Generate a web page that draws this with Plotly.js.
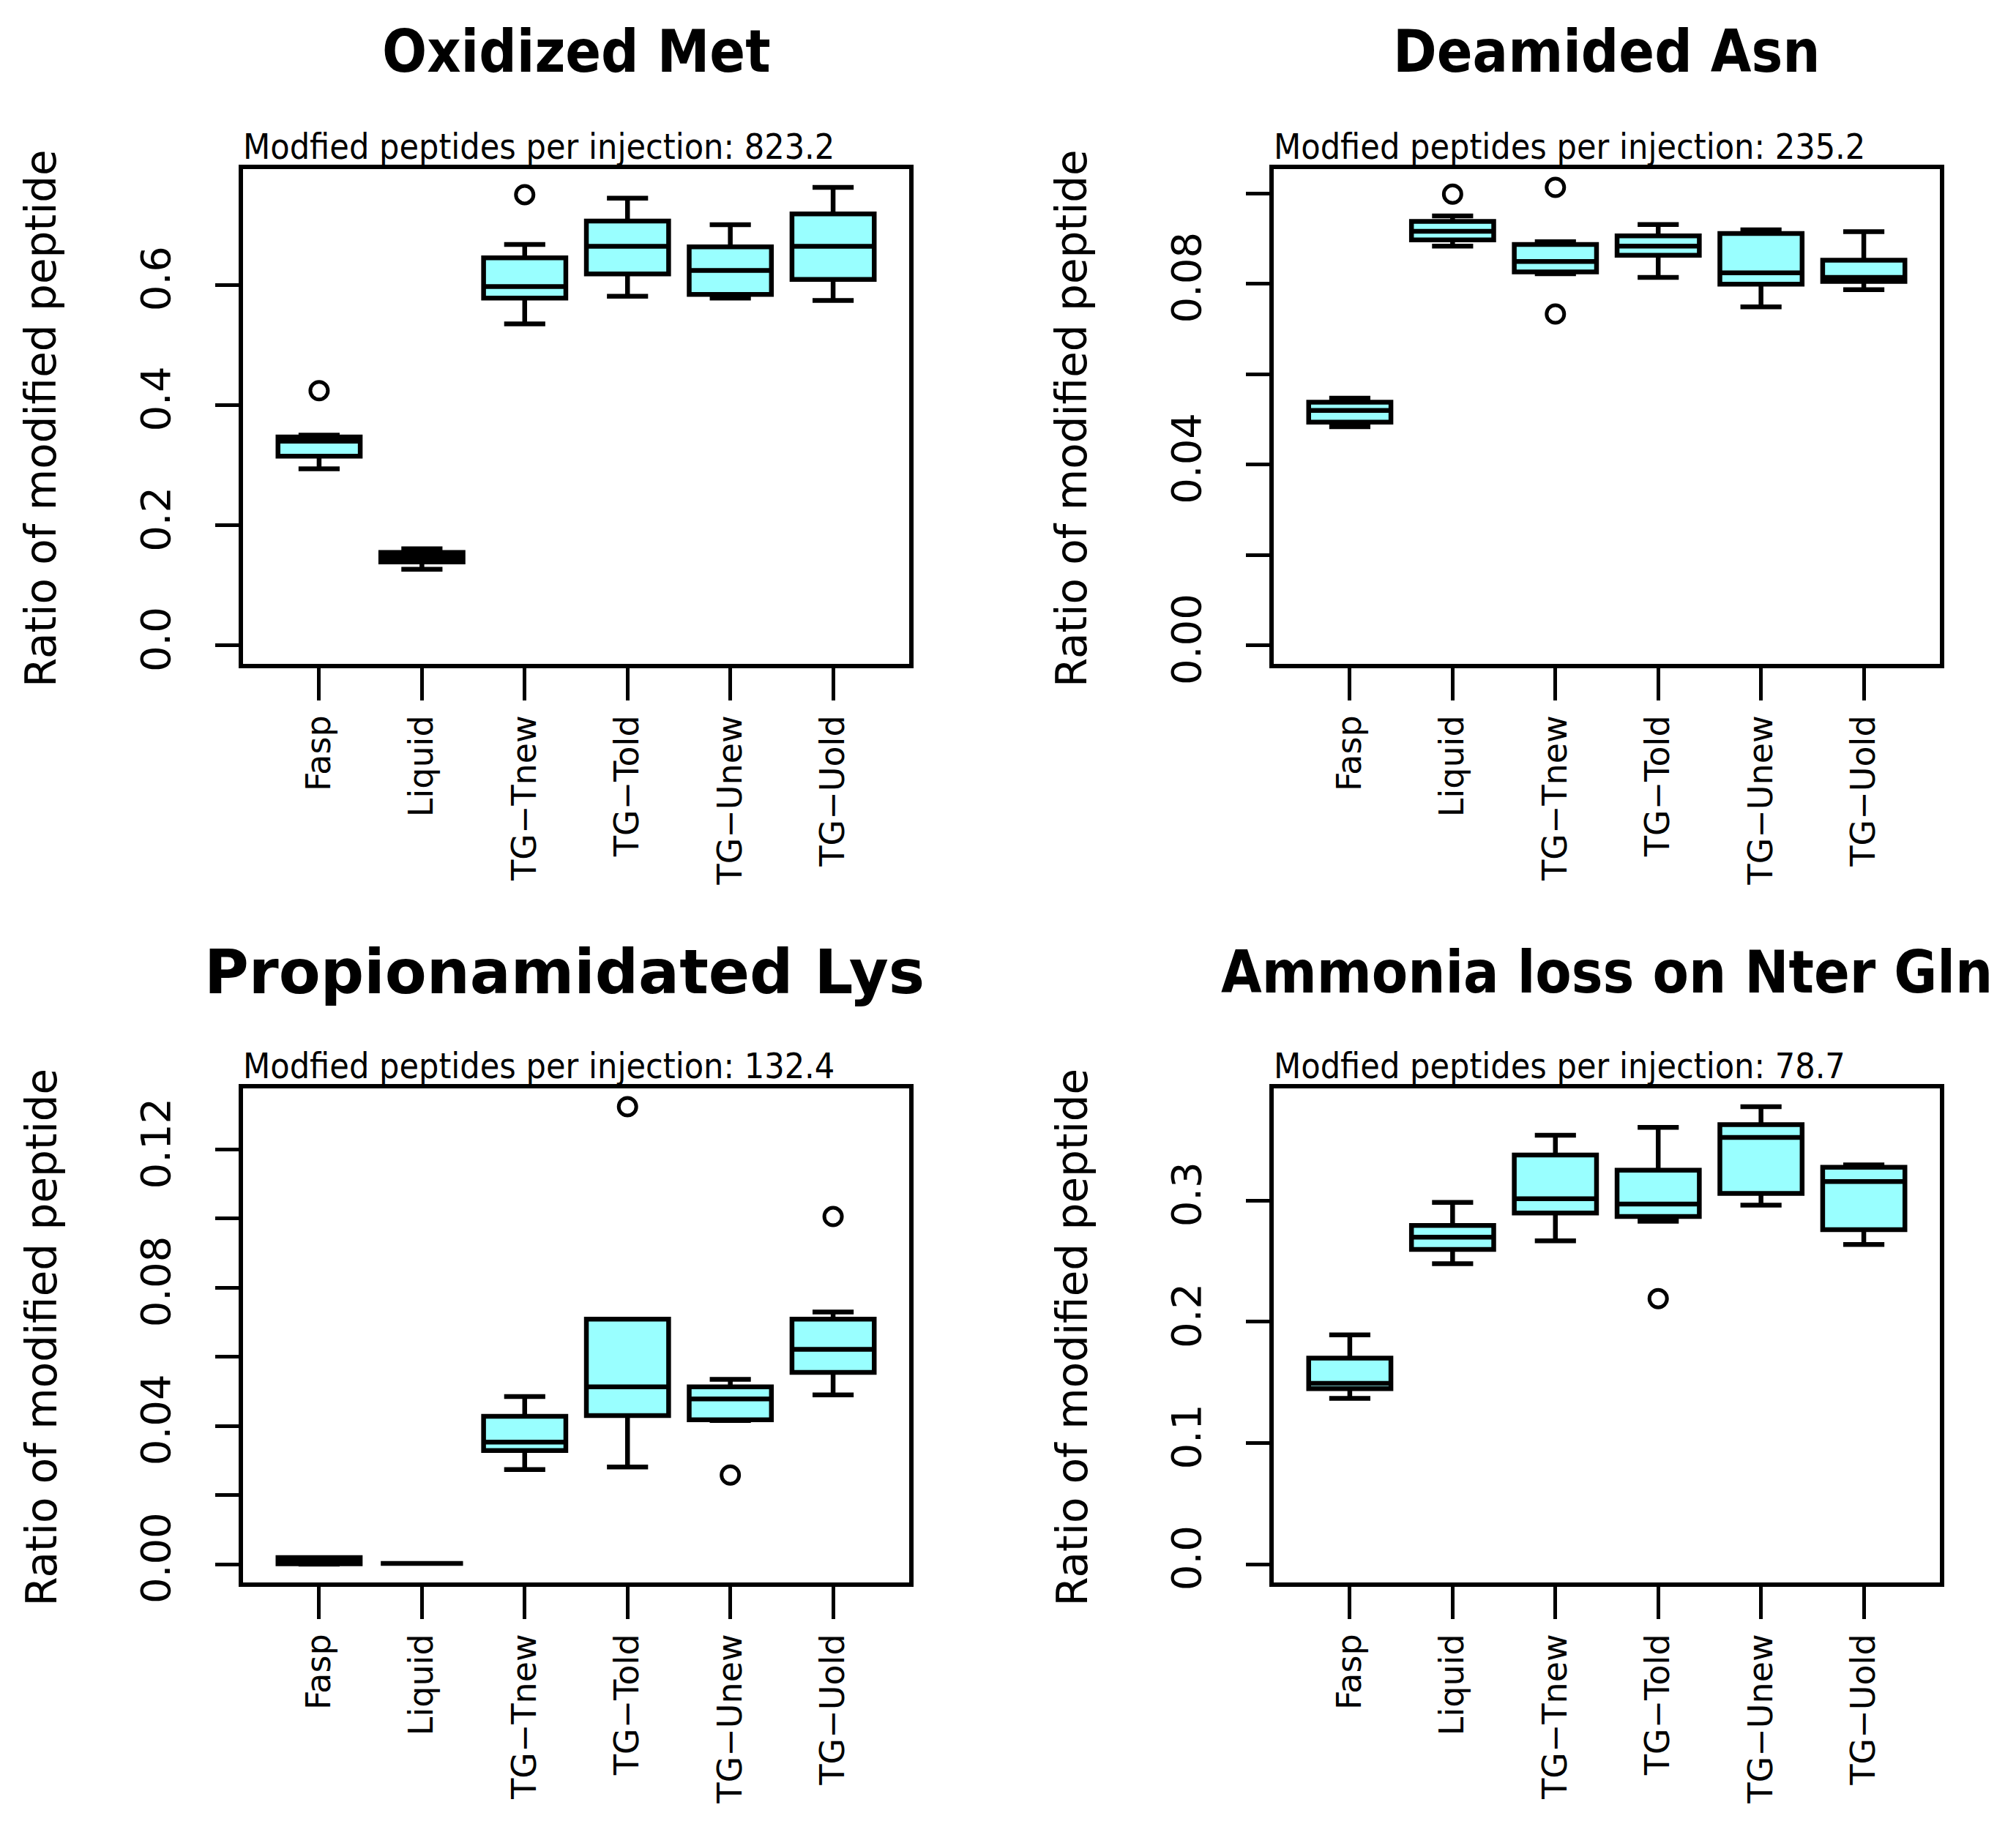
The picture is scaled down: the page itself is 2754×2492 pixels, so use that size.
<!DOCTYPE html>
<html>
<head>
<meta charset="utf-8">
<script src="https://cdn.plot.ly/plotly-3.0.1.min.js"></script>
<style>
html,body{margin:0;padding:0;background:#fff;overflow:hidden;}
#chart{width:2754px;height:2492px;}
</style>
</head>
<body>
<div id="chart"></div>
<script>
// ---- data ----
const categories = ["Fasp", "Liquid", "TG\u2212Tnew", "TG\u2212Told", "TG\u2212Unew", "TG\u2212Uold"];
const panelTitles = ["Oxidized Met", "Deamided Asn", "Propionamidated Lys", "Ammonia loss on Nter Gln"];
const subtitles = [
  "Modfied peptides per injection: 823.2",
  "Modfied peptides per injection: 235.2",
  "Modfied peptides per injection: 132.4",
  "Modfied peptides per injection: 78.7"
];
const yTitle = "Ratio of modified peptide";

// Oxidized Met
const oxLower  = [0.294, 0.127, 0.535, 0.581, 0.578, 0.574];
const oxQ1     = [0.315, 0.139, 0.578, 0.618, 0.584, 0.609];
const oxMedian = [0.340, 0.147, 0.597, 0.664, 0.624, 0.664];
const oxQ3     = [0.347, 0.155, 0.645, 0.706, 0.663, 0.718];
const oxUpper  = [0.350, 0.161, 0.667, 0.744, 0.700, 0.762];
const oxOutX   = [1, 3];
const oxOutY   = [0.424, 0.750];

// Deamided Asn
const deLower  = [0.0484, 0.0883, 0.0822, 0.0814, 0.0749, 0.0787];
const deQ1     = [0.0494, 0.0897, 0.0826, 0.0863, 0.0799, 0.0805];
const deMedian = [0.0520, 0.0916, 0.0849, 0.0883, 0.0824, 0.0814];
const deQ3     = [0.0538, 0.0938, 0.0887, 0.0906, 0.0911, 0.0852];
const deUpper  = [0.0547, 0.0950, 0.0893, 0.0931, 0.0919, 0.0915];
const deOutX   = [2, 3, 3];
const deOutY   = [0.0998, 0.1013, 0.0733];

// Propionamidated Lys
const prLower  = [0.0000, 0.0002, 0.0274, 0.0281, 0.0416, 0.0490];
const prQ1     = [0.0001, 0.0002, 0.0329, 0.0430, 0.0418, 0.0555];
const prMedian = [0.0008, 0.0002, 0.0353, 0.0513, 0.0478, 0.0622];
const prQ3     = [0.0019, 0.0002, 0.0428, 0.0709, 0.0513, 0.0709];
const prUpper  = [0.0019, 0.0002, 0.0485, 0.0709, 0.0535, 0.0730];
const prOutX   = [4, 5, 6];
const prOutY   = [0.1324, 0.0258, 0.1006];

// Ammonia loss on Nter Gln
const amLower  = [0.1368, 0.2479, 0.2668, 0.2829, 0.2962, 0.2638];
const amQ1     = [0.1447, 0.2597, 0.2897, 0.2868, 0.3059, 0.2759];
const amMedian = [0.1491, 0.2697, 0.3015, 0.2971, 0.3521, 0.3156];
const amQ3     = [0.1700, 0.2794, 0.3376, 0.3250, 0.3626, 0.3274];
const amUpper  = [0.1891, 0.2985, 0.3538, 0.3603, 0.3774, 0.3294];
const amOutX   = [4];
const amOutY   = [0.2191];

// y-axis ticks
const oxTicks = [0, 0.2, 0.4, 0.6];
const oxTickText = ["0.0", "0.2", "0.4", "0.6"];
const deTicks = [0, 0.02, 0.04, 0.06, 0.08, 0.10];
const deTickText = ["0.00", "", "0.04", "", "0.08", ""];
const prTicks = [0, 0.02, 0.04, 0.06, 0.08, 0.10, 0.12];
const prTickText = ["0.00", "", "0.04", "", "0.08", "", "0.12"];
const amTicks = [0, 0.1, 0.2, 0.3];
const amTickText = ["0.0", "0.1", "0.2", "0.3"];

// ---- build ----
const W = 2754, H = 2492;
const px = v => v / W;
const py = v => 1 - v / H;
const positions = categories.map((c, i) => i + 1);

const panels = [
  {lo: oxLower, q1: oxQ1, med: oxMedian, q3: oxQ3, up: oxUpper, ox: oxOutX, oy: oxOutY, tv: oxTicks, tt: oxTickText},
  {lo: deLower, q1: deQ1, med: deMedian, q3: deQ3, up: deUpper, ox: deOutX, oy: deOutY, tv: deTicks, tt: deTickText},
  {lo: prLower, q1: prQ1, med: prMedian, q3: prQ3, up: prUpper, ox: prOutX, oy: prOutY, tv: prTicks, tt: prTickText},
  {lo: amLower, q1: amQ1, med: amMedian, q3: amQ3, up: amUpper, ox: amOutX, oy: amOutY, tv: amTicks, tt: amTickText}
];

// plot frames in pixels [left, right, top, bottom]
const frames = [
  [332, 1242, 231, 907],
  [1740, 2650, 231, 907],
  [332, 1242, 1487, 2162],
  [1740, 2650, 1487, 2162]
];

const fontReg = "DejaVu Sans Condensed, DejaVu Sans, sans-serif";
const fontAxis = "DejaVu Sans, sans-serif";

const traces = [];
const layout = {
  width: W, height: H,
  margin: {l: 0, r: 0, t: 0, b: 0},
  paper_bgcolor: "#ffffff", plot_bgcolor: "#ffffff",
  showlegend: false,
  boxgap: 0.2,
  boxgroupgap: 0,
  annotations: []
};

panels.forEach((p, i) => {
  const n = i + 1;
  const xa = n === 1 ? "x" : "x" + n;
  const ya = n === 1 ? "y" : "y" + n;
  traces.push({
    type: "box",
    x: positions,
    q1: p.q1, median: p.med, q3: p.q3,
    lowerfence: p.lo, upperfence: p.up,
    boxpoints: false,
    whiskerwidth: 0.5,
    fillcolor: "#99ffff",
    line: {color: "#000000", width: 6.5},
    xaxis: xa, yaxis: ya,
    hoverinfo: "skip"
  });
  traces.push({
    type: "scatter", mode: "markers",
    x: p.ox, y: p.oy,
    marker: {symbol: "circle-open", size: 24, color: "#000000", line: {width: 5, color: "#000000"}},
    xaxis: xa, yaxis: ya,
    hoverinfo: "skip"
  });

  const ymax = Math.max(...p.up, ...p.oy);
  const ext = ymax * 0.04;
  const f = frames[i];
  const axKeyX = n === 1 ? "xaxis" : "xaxis" + n;
  const axKeyY = n === 1 ? "yaxis" : "yaxis" + n;
  layout[axKeyX] = {
    domain: [px(f[0]), px(f[1])],
    anchor: ya,
    range: [0.26, 6.74],
    tickmode: "array", tickvals: positions, ticktext: categories,
    tickangle: -90,
    ticks: "outside", ticklen: 44, tickwidth: 5, tickcolor: "#000",
    ticklabelstandoff: 2,
    tickfont: {family: fontAxis, size: 46, color: "#000"},
    showline: true, mirror: true, linewidth: 6, linecolor: "#000",
    showgrid: false, zeroline: false, fixedrange: true
  };
  layout[axKeyY] = {
    domain: [py(f[3]), py(f[2])],
    anchor: xa,
    range: [-ext, ymax + ext],
    tickmode: "array", tickvals: p.tv, ticktext: p.tt,
    tickangle: -90,
    ticks: "outside", ticklen: 32, tickwidth: 5, tickcolor: "#000",
    ticklabelstandoff: 40,
    tickfont: {family: fontAxis, size: 56, color: "#000"},
    showline: true, mirror: true, linewidth: 6, linecolor: "#000",
    showgrid: false, zeroline: false, fixedrange: true
  };

  const cx = (f[0] + f[1]) / 2;
  const titleY = i < 2 ? 71 : 1328;
  const condensed = i !== 2;
  layout.annotations.push({
    xref: "paper", yref: "paper",
    x: px(i === 2 ? cx - 16 : cx), y: py(titleY), xanchor: "center", yanchor: "middle",
    text: panelTitles[i], showarrow: false,
    font: {family: condensed ? "DejaVu Sans Condensed, DejaVu Sans, sans-serif" : "DejaVu Sans, sans-serif",
           size: condensed ? 80 : 83, weight: "bold", color: "#000"}
  });
  layout.annotations.push({
    xref: "paper", yref: "paper",
    x: px(f[0] - 2), y: py(f[2] - 31), xanchor: "left", yanchor: "middle",
    text: subtitles[i], showarrow: false,
    font: {family: fontReg, size: 48, color: "#000"}
  });
  layout.annotations.push({
    xref: "paper", yref: "paper",
    x: px(f[0] - 276), y: py((f[2] + f[3]) / 2 + 3), xanchor: "center", yanchor: "middle",
    text: yTitle, showarrow: false, textangle: -90,
    font: {family: fontAxis, size: 58, color: "#000"}
  });
});

Plotly.newPlot("chart", traces, layout, {displayModeBar: false, staticPlot: true});
</script>
</body>
</html>
